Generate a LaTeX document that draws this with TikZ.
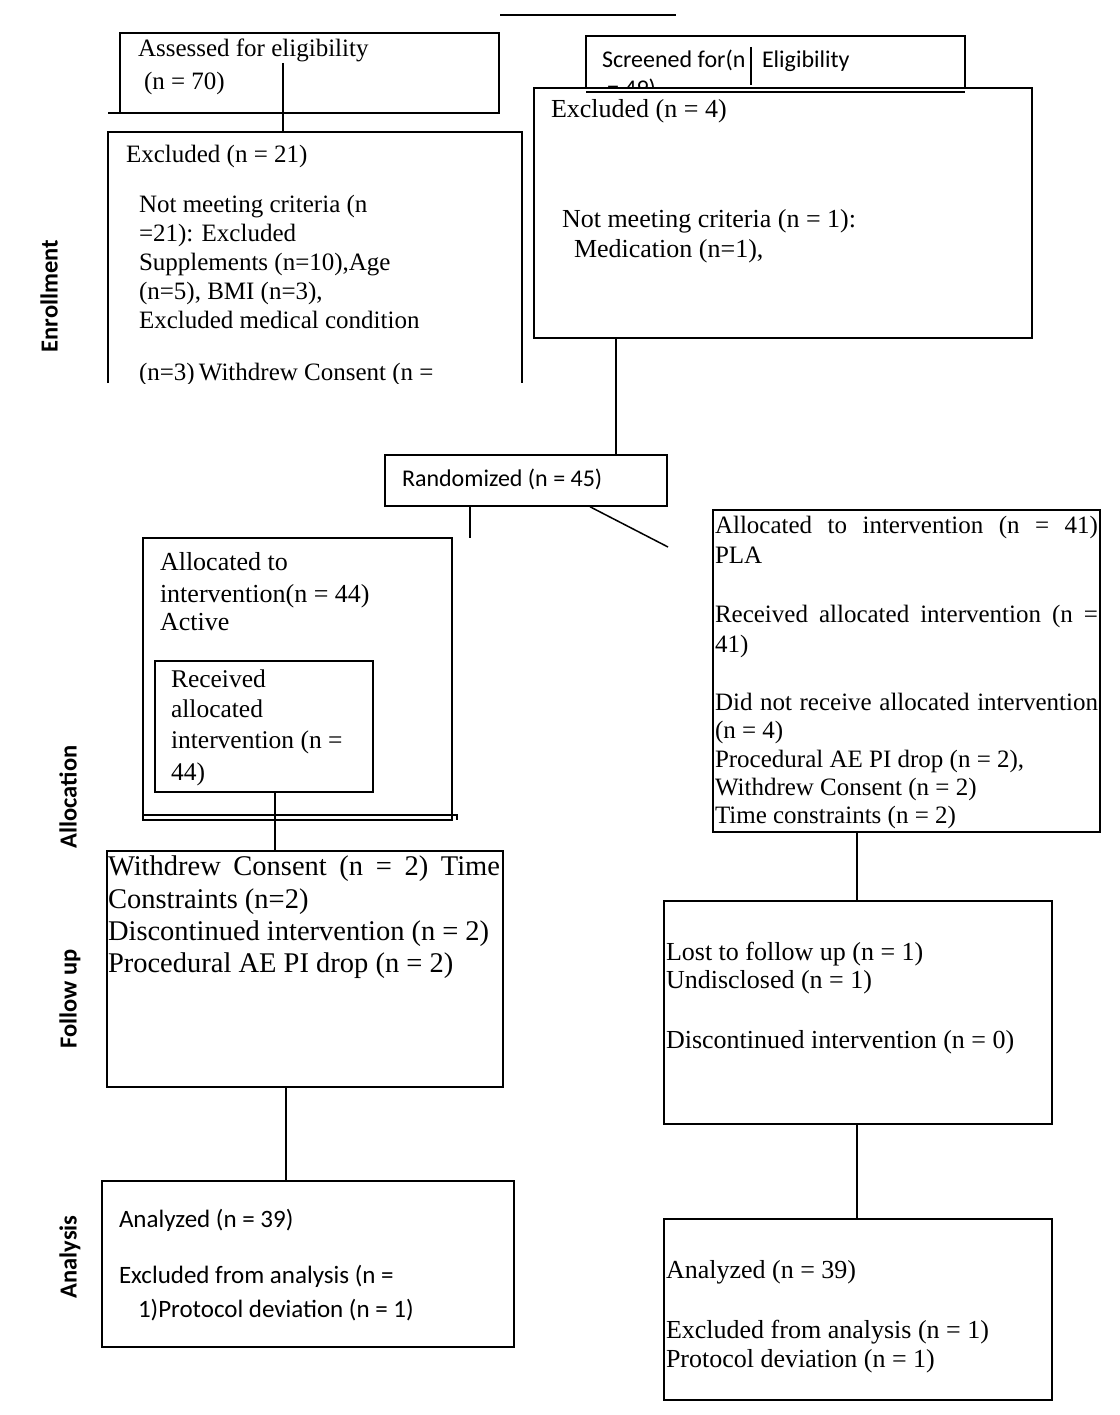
\documentclass[tikz,border=0pt]{standalone}
\usepackage{fontspec}
\setmainfont{Liberation Serif}
\newfontfamily\calfont{Carlito}
\newcommand\fsz[1]{\fontsize{#1}{#1}\selectfont}
\usetikzlibrary{fit}
\begin{document}
\begin{tikzpicture}[x=1pt,y=-1pt,
  bx/.style={draw, line width=1.5pt, inner sep=0pt, rectangle},
  thinbx/.style={draw, line width=1.1pt, inner sep=0pt, rectangle},
  ln/.style={anchor=base west, inner sep=0pt, outer sep=0pt},
  conn/.style={line width=1.5pt},
  side/.style={rotate=90, inner sep=0pt, font=\calfont\bfseries\fsz{24.5}}]
\useasboundingbox (0,0) rectangle (1119,1415);

% stray top line
\draw[conn] (500,15) -- (676,15);

% ---------- Enrollment, left ----------
\node[bx, fit={(120,33) (499,113)}] (assess) {};
\draw[conn] (108,113) -- (120,113);
\node[ln, font=\fsz{25}] (t1) at (138,57) {Assessed for eligibility};
\node[ln, font=\fsz{25}] (t2) at (144,90) {(n = 70)};

\draw[conn] (108,383) |- (522,132) -- (522,383);
\coordinate (ex21top) at (283,132);
\coordinate (a1) at (283,63);
\draw[conn] (a1) -- (ex21top);
\begin{scope}
\clip (100,134) rectangle (530,383);
\node[ln, font=\fsz{25}] (e1) at (126,163) {Excluded (n = 21)};
\node[ln, font=\fsz{25}] (e2) at (139,213) {Not meeting criteria (n};
\node[ln, font=\fsz{25}] (e3) at (139,242) {=21): Excluded};
\node[ln, font=\fsz{25}] (e4) at (139,270) {Supplements (n=10),Age};
\node[ln, font=\fsz{25}] (e5) at (139,299) {(n=5), BMI (n=3),};
\node[ln, font=\fsz{25}] (e6) at (139,328) {Excluded medical condition};
\node[ln, font=\fsz{25}] (e7) at (139,380) {(n=3)\,Withdrew Consent (n =};
\end{scope}

% ---------- Enrollment, right ----------
\node[bx, fit={(586,36) (965,92)}] (screen) {};
\node[ln, font=\calfont\fsz{24}] (s1) at (602,68) {Screened for(n};
\node[ln, font=\calfont\fsz{24}] (s2) at (762,68) {Eligibility};
\draw[line width=1.8pt] (751,47) -- (751,85);
\begin{scope}
\clip (590,70) rectangle (700,88);
\node[ln, font=\calfont\fsz{24}] (s3) at (607,97) {= 49)};
\end{scope}
\node[bx, fill=white, fit={(534,88) (1032,338)}] (excl4) {};
\draw[line width=1.2pt] (586,92) -- (965,92);
\node[ln, font=\fsz{26}] (x1) at (551,118) {Excluded (n = 4)};
\node[ln, font=\fsz{26}] (x2) at (562,228) {Not meeting criteria (n = 1):};
\node[ln, font=\fsz{26}] (x3) at (574,258) {Medication (n=1),};

% ---------- Randomized ----------
\node[bx, fit={(385,455) (667,506)}] (rand) {};
\node[ln, font=\calfont\fsz{24}] (r1) at (402,486) {Randomized (n = 45)};

\coordinate (vx1) at (616,0);
\coordinate (vx2) at (470,0);
\coordinate (vx3) at (275,0);
\coordinate (vx4) at (857,0);
\coordinate (vx5) at (286,0);
\coordinate (vd) at (590,0);
\coordinate (fe1) at (470,538);
\coordinate (fe2) at (668,547);
\draw[conn] (excl4.south -| vx1) -- (rand.north -| vx1);
\draw[conn] (rand.south -| vx2) -- (fe1);
\draw[conn] (rand.south -| vd) -- (fe2);

% ---------- Allocation, left ----------
\node[bx, fit={(143,538) (452,820)}] (all) {};
\draw[line width=1.2pt] (143,815) -- (457,815) -- (457,820);
\node[ln, font=\fsz{26}] (l1) at (160,570) {Allocated to};
\node[ln, font=\fsz{26}] (l2) at (160,602) {intervention(n = 44)};
\node[ln, font=\fsz{26}] (l3) at (160,630) {Active};
\node[thinbx, fit={(155,661) (373,792)}] (recv) {};
\node[ln, font=\fsz{25.5}] (c1) at (171,687) {Received};
\node[ln, font=\fsz{25.5}] (c2) at (171,717) {allocated};
\node[ln, font=\fsz{25.5}] (c3) at (171,748) {intervention (n =};
\node[ln, font=\fsz{25.5}] (c4) at (171,780) {44)};

% ---------- Allocation, right ----------
\node[bx, fit={(713,510) (1100,832)}] (alr) {};
\node[ln, font=\fsz{25}] (p1) at (715,533) {\makebox[383pt][s]{Allocated to intervention (n = 41)}};
\node[ln, font=\fsz{25}] (p2) at (715,563) {PLA};
\node[ln, font=\fsz{25}] (p3) at (715,622) {\makebox[383pt][s]{Received allocated intervention (n =}};
\node[ln, font=\fsz{25}] (p4) at (715,652) {41)};
\node[ln, font=\fsz{25}] (p5) at (715,710) {\makebox[383pt][s]{Did not receive allocated intervention}};
\node[ln, font=\fsz{25}] (p6) at (715,738) {(n = 4)};
\node[ln, font=\fsz{25}] (p7) at (715,767) {Procedural AE PI drop (n = 2),};
\node[ln, font=\fsz{25}] (p8) at (715,795) {Withdrew Consent (n = 2)};
\node[ln, font=\fsz{25}] (p9) at (715,823) {Time constraints (n = 2)};

% ---------- Follow up ----------
\node[bx, fit={(107,851) (503,1087)}] (ful) {};
\node[ln, font=\fsz{28.5}] (f1) at (108,875) {\makebox[392pt][s]{Withdrew Consent (n = 2) Time}};
\node[ln, font=\fsz{28.5}] (f2) at (108,908) {Constraints (n=2)};
\node[ln, font=\fsz{28.5}] (f3) at (108,940) {\makebox[381pt][s]{Discontinued intervention (n = 2)}};
\node[ln, font=\fsz{28.5}] (f4) at (108,972) {Procedural AE PI drop (n = 2)};

\node[bx, fit={(664,901) (1052,1124)}] (fur) {};
\node[ln, font=\fsz{26}] (g1) at (666,960) {Lost to follow up (n = 1)};
\node[ln, font=\fsz{26}] (g2) at (666,988) {Undisclosed (n = 1)};
\node[ln, font=\fsz{26}] (g3) at (666,1048) {Discontinued intervention (n = 0)};

% ---------- Analysis ----------
\node[bx, fit={(102,1181) (514,1347)}] (anl) {};
\node[ln, font=\calfont\fsz{25}] (h1) at (119,1227) {Analyzed (n = 39)};
\node[ln, font=\calfont\fsz{25}] (h2) at (119,1283) {Excluded from analysis (n =};
\node[ln, font=\calfont\fsz{25}] (h3) at (138,1317) {1)Protocol deviation (n = 1)};

\node[bx, fit={(664,1219) (1052,1400)}] (anr) {};
\node[ln, font=\fsz{26}] (k1) at (666,1278) {Analyzed (n = 39)};
\node[ln, font=\fsz{26}] (k2) at (666,1338) {Excluded from analysis (n = 1)};
\node[ln, font=\fsz{26}] (k3) at (666,1367) {Protocol deviation (n = 1)};

% ---------- connectors ----------
\draw[conn] (recv.south -| vx3) -- (ful.north -| vx3);
\draw[conn] (alr.south -| vx4) -- (fur.north -| vx4);
\draw[conn] (ful.south -| vx5) -- (anl.north -| vx5);
\draw[conn] (fur.south -| vx4) -- (anr.north -| vx4);

% ---------- side labels ----------
\node[side] (sEn) at (49,296) {Enrollment};
\node[side] (sAl) at (68,797) {Allocation};
\node[side] (sFo) at (70,999) {Follow up};
\node[side] (sAn) at (70,1257) {Analysis};
\end{tikzpicture}
\end{document}
